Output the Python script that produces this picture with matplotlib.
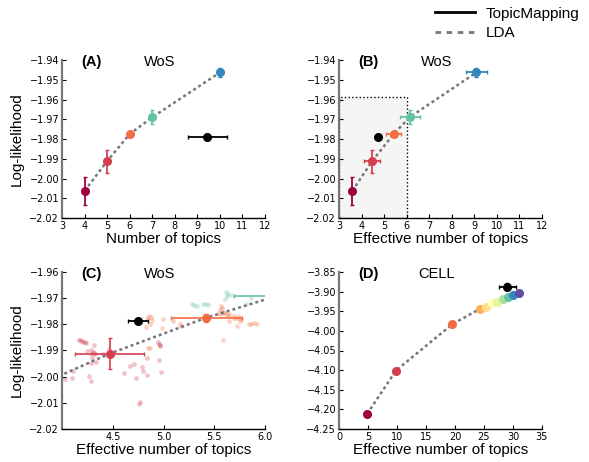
import matplotlib.pyplot as plt
from matplotlib.lines import Line2D
from matplotlib.patches import Rectangle
from matplotlib.ticker import FuncFormatter
import numpy as np

# ---- data -------------------------------------------------------------
# WoS, LDA runs (colours by number of topics)
wos_k = [4, 5, 6, 7, 10]
wos_ll = [-2.0063, -1.9912, -1.9775, -1.9690, -1.9463]
wos_ll_err = [0.0070, 0.0058, 0.0015, 0.0035, 0.0025]
wos_eff = [3.59, 4.47, 5.42, 6.13, 9.09]
wos_eff_err = [0.0, 0.34, 0.35, 0.44, 0.47]
wos_colors = ["#9e0142", "#d53e4f", "#f46d43", "#66c2a5", "#3288bd"]

# WoS, TopicMapping
tm_k, tm_k_err = 9.45, 0.87
tm_eff, tm_eff_err = 4.75, 0.10
tm_ll = -1.9789

# WoS zoom: individual LDA runs (effective topics, log-likelihood)
runs5_x = [4.164, 4.181, 4.197, 4.211, 4.224, 4.237, 4.319, 4.243, 4.286, 4.303,
           4.319, 4.289, 4.329, 4.296, 4.336, 4.286, 4.401, 4.461, 4.105, 4.099,
           4.033, 4.270, 4.286, 4.615, 4.671, 4.714, 4.730, 4.789, 4.796, 4.836,
           4.836, 4.951, 4.980, 4.763, 4.773, 4.941, 4.954, 4.961, 4.967]
runs5_y = [-1.9860, -1.9861, -1.9864, -1.9866, -1.9869, -1.9873, -1.9879, -1.9902, -1.9897, -1.9907,
           -1.9910, -1.9915, -1.9915, -1.9930, -1.9943, -1.9947, -1.9912, -1.9894, -1.9978, -2.0004,
           -2.0010, -1.9997, -2.0017, -1.9985, -1.9959, -1.9953, -2.0004, -1.9963, -1.9978, -1.9930,
           -1.9994, -1.9938, -1.9981, -2.0106, -2.0096, -1.9869, -1.9874, -1.9879, -1.9884]
runs6_x = [4.836, 4.862, 4.878, 4.888, 4.868, 4.993, 4.987, 4.829, 4.849, 4.868,
           5.091, 5.160, 5.173, 5.567, 5.577, 5.558, 5.551, 5.584, 5.571, 5.600,
           5.617, 5.633, 5.649, 5.682, 5.699, 5.715, 5.732, 5.748, 5.765, 5.755,
           5.643, 5.584, 5.840, 5.863, 5.896, 5.919, 5.722]
runs6_y = [-1.9775, -1.9768, -1.9772, -1.9785, -1.9797, -1.9781, -1.9815, -1.9810, -1.9889, -1.9889,
           -1.9788, -1.9800, -1.9806, -1.9730, -1.9736, -1.9746, -1.9755, -1.9752, -1.9762, -1.9755,
           -1.9762, -1.9768, -1.9759, -1.9768, -1.9775, -1.9775, -1.9768, -1.9775, -1.9781, -1.9787,
           -1.9787, -1.9861, -1.9797, -1.9800, -1.9794, -1.9800, -1.9806]
runs7_x = [5.281, 5.304, 5.330, 5.393, 5.419, 5.436, 5.616, 5.633, 5.626, 5.610,
           5.676, 5.814, 5.863]
runs7_y = [-1.9724, -1.9726, -1.9730, -1.9724, -1.9721, -1.9726, -1.9675, -1.9683, -1.9692, -1.9704,
           -1.9686, -1.9721, -1.9698]

# CELL
cell_eff = [4.83, 9.83, 19.54, 24.3, 25.29, 26.32, 27.18, 28.2, 29.14, 30.06, 31.09]
cell_ll = [-4.212, -4.101, -3.983, -3.944, -3.938, -3.930, -3.926, -3.919, -3.913, -3.908, -3.903]
cell_colors = ["#9e0142", "#d53e4f", "#f46d43", "#fdae61", "#fee08b", "#ffffbf",
               "#e6f598", "#abdda4", "#66c2a5", "#3288bd", "#5e4fa2"]
cell_tm_eff, cell_tm_eff_err = 29.02, 1.47
cell_tm_ll, cell_tm_ll_err = -3.887, 0.0085

# ---- style ------------------------------------------------------------
LBL = "Liberation Sans"
lda_style = dict(color="#777777", lw=1.8, ls=(0, (1.2, 1.2)), zorder=2)
fmt2 = FuncFormatter(lambda v, p: f"{v:.2f}".replace("-", "\u2212"))


def style_axes(ax, tag, name):
    for s in ["top", "right"]:
        ax.spines[s].set_visible(False)
    ax.spines["left"].set_color("#777777")
    ax.spines["left"].set_linewidth(1.6)
    ax.spines["bottom"].set_linewidth(1.0)
    ax.tick_params(direction="in", length=3, labelsize=7, pad=2)
    ax.yaxis.set_major_formatter(fmt2)
    ax.text(0.145, 0.985, tag, transform=ax.transAxes, ha="center", va="center",
            fontsize=10.5, fontweight="bold", family=LBL)
    ax.text(0.48, 0.985, name, transform=ax.transAxes, ha="center", va="center",
            fontsize=10.5, family=LBL)


fig = plt.figure(figsize=(5.89, 4.62), dpi=100)
W, H = 203 / 589, 158 / 462
axA = fig.add_axes([62 / 589, (462 - 218) / 462, W, H])
axB = fig.add_axes([339 / 589, (462 - 218) / 462, W, H])
axC = fig.add_axes([62 / 589, (462 - 429) / 462, W, 157 / 462])
axD = fig.add_axes([339 / 589, (462 - 429) / 462, W, 157 / 462])

# (A)
axA.plot(wos_k, wos_ll, **lda_style)
for k, y, e, c in zip(wos_k, wos_ll, wos_ll_err, wos_colors):
    axA.errorbar(k, y, yerr=e, fmt="o", color=c, ms=5.5, elinewidth=1.3, capsize=1.5, zorder=3)
axA.errorbar(tm_k, tm_ll, xerr=tm_k_err, fmt="o", color="black", ms=5.5, elinewidth=1.3,
             capsize=1.5, zorder=3)
axA.set_xlim(3, 12)
axA.set_ylim(-2.02, -1.94)
axA.set_xticks(range(3, 13))
axA.set_yticks(np.linspace(-2.02, -1.94, 9))
axA.set_xlabel("Number of topics", family=LBL, fontsize=11, labelpad=1)
axA.set_ylabel("Log-likelihood", family=LBL, fontsize=11)
style_axes(axA, "(A)", "WoS")

# (B)
axB.add_patch(Rectangle((3, -2.02), 3, 0.0615, facecolor="#f5f5f5", edgecolor="black",
                        lw=1, ls=":", zorder=1))
axB.plot(wos_eff, wos_ll, **lda_style)
for x, y, xe, ye, c in zip(wos_eff, wos_ll, wos_eff_err, wos_ll_err, wos_colors):
    axB.errorbar(x, y, xerr=xe, yerr=ye, fmt="o", color=c, ms=5.5, elinewidth=1.3,
                 capsize=1.5, zorder=3)
axB.plot(tm_eff, tm_ll, "o", color="black", ms=5.5, zorder=3)
axB.set_xlim(3, 12)
axB.set_ylim(-2.02, -1.94)
axB.set_xticks(range(3, 13))
axB.set_yticks(np.linspace(-2.02, -1.94, 9))
axB.set_xlabel("Effective number of topics", family=LBL, fontsize=11, labelpad=1)
style_axes(axB, "(B)", "WoS")

# (C)
axC.scatter(runs5_x, runs5_y, s=12, color=wos_colors[1], alpha=0.3, lw=0, zorder=1)
axC.scatter(runs6_x, runs6_y, s=12, color=wos_colors[2], alpha=0.3, lw=0, zorder=1)
axC.scatter(runs7_x, runs7_y, s=12, color=wos_colors[3], alpha=0.3, lw=0, zorder=1)
axC.plot(wos_eff, wos_ll, **lda_style)
for x, y, xe, ye, c in zip(wos_eff, wos_ll, wos_eff_err, wos_ll_err, wos_colors):
    axC.errorbar(x, y, xerr=xe, yerr=ye, fmt="o", color=c, ms=5.5, elinewidth=1.2,
                 capsize=1.5, zorder=3)
axC.errorbar(tm_eff, tm_ll, xerr=tm_eff_err, fmt="o", color="black", ms=5.5, elinewidth=1.3,
             capsize=1.5, zorder=3)
axC.set_xlim(4.0, 6.0)
axC.set_ylim(-2.02, -1.96)
axC.set_xticks([4.5, 5.0, 5.5, 6.0])
axC.set_yticks(np.linspace(-2.02, -1.96, 7))
axC.set_xlabel("Effective number of topics", family=LBL, fontsize=11, labelpad=1)
axC.set_ylabel("Log-likelihood", family=LBL, fontsize=11)
style_axes(axC, "(C)", "WoS")

# (D)
axD.plot(cell_eff, cell_ll, **lda_style)
for x, y, c in zip(cell_eff, cell_ll, cell_colors):
    axD.plot(x, y, "o", color=c, ms=5.5, zorder=3)
axD.errorbar(cell_tm_eff, cell_tm_ll, xerr=cell_tm_eff_err, yerr=cell_tm_ll_err, fmt="o",
             color="black", ms=5.5, elinewidth=1.3, capsize=1.5, zorder=4)
axD.set_xlim(0, 35)
axD.set_ylim(-4.25, -3.85)
axD.set_xticks(range(0, 36, 5))
axD.set_yticks(np.linspace(-4.25, -3.85, 9))
axD.set_xlabel("Effective number of topics", family=LBL, fontsize=11, labelpad=1)
style_axes(axD, "(D)", "CELL")

handles = [Line2D([], [], color="black", lw=2),
           Line2D([], [], color="#777777", lw=2, ls=(0, (2, 2)))]
fig.legend(handles, ["TopicMapping", "LDA"], loc="upper left", bbox_to_anchor=(0.715, 1.015),
           frameon=False, handlelength=2.6, handletextpad=0.7, labelspacing=0.35,
           prop={"family": LBL, "size": 11})

fig.savefig("out.png", dpi=100)
